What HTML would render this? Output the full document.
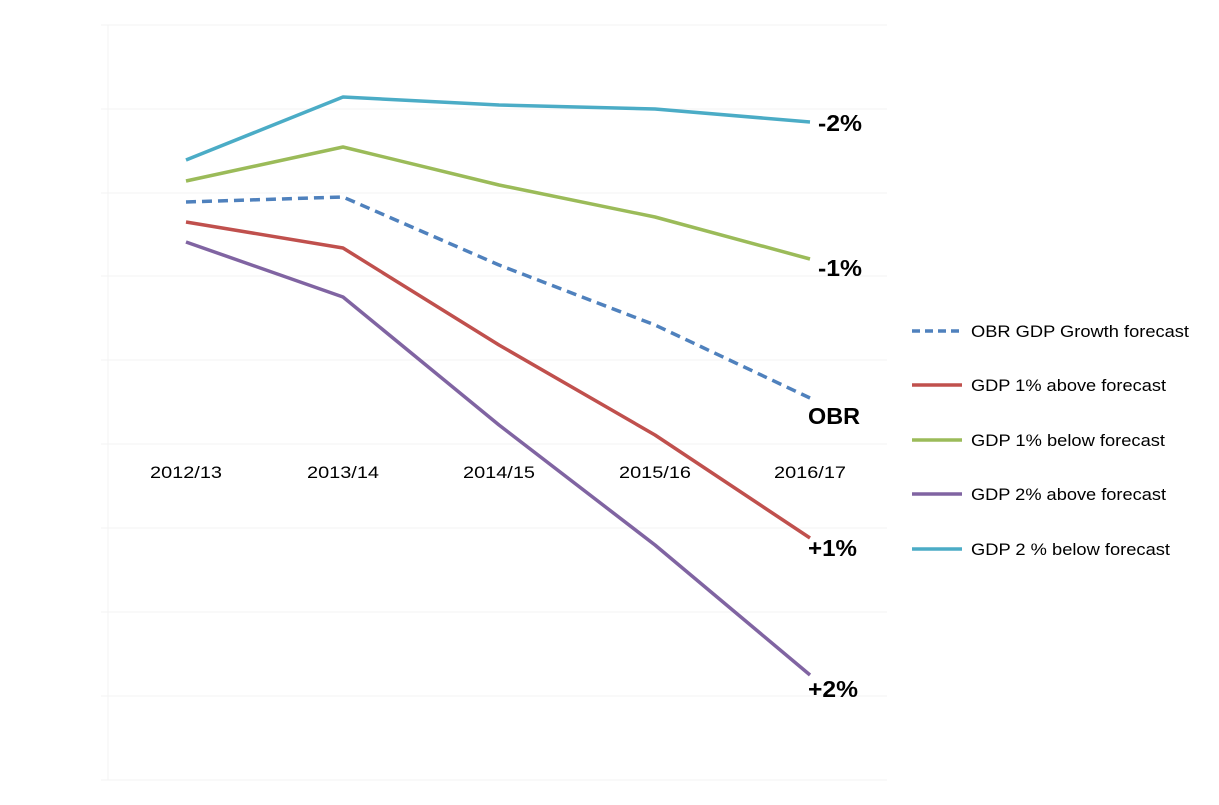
<!DOCTYPE html>
<html><head><style>body{margin:0;background:#fff}svg{display:block}</style></head><body>
<svg width="1219" height="805" xmlns="http://www.w3.org/2000/svg" font-family="Liberation Sans, sans-serif">
<g stroke="#f3f3f3" stroke-width="1">
<line x1="101" y1="25" x2="887" y2="25"/><line x1="101" y1="109" x2="887" y2="109"/>
<line x1="101" y1="193" x2="887" y2="193"/><line x1="101" y1="276" x2="887" y2="276"/>
<line x1="101" y1="360" x2="887" y2="360"/><line x1="101" y1="444" x2="887" y2="444"/>
<line x1="101" y1="528" x2="887" y2="528"/><line x1="101" y1="612" x2="887" y2="612"/>
<line x1="101" y1="696" x2="887" y2="696"/><line x1="101" y1="780" x2="887" y2="780"/>
<line x1="108" y1="25" x2="108" y2="780"/>
</g>
<g font-size="17" fill="#000" text-anchor="middle">
<text x="186" y="478" textLength="72" lengthAdjust="spacingAndGlyphs">2012/13</text>
<text x="343" y="478" textLength="72" lengthAdjust="spacingAndGlyphs">2013/14</text>
<text x="499" y="478" textLength="72" lengthAdjust="spacingAndGlyphs">2014/15</text>
<text x="655" y="478" textLength="72" lengthAdjust="spacingAndGlyphs">2015/16</text>
<text x="810" y="478" textLength="72" lengthAdjust="spacingAndGlyphs">2016/17</text>
</g>
<g fill="none" stroke-width="3.5" stroke-linejoin="round">
<polyline stroke="#4bacc6" points="186,160 343,97 499,105 655,109 810,122"/>
<polyline stroke="#9bbb59" points="186,181 343,147 499,185 655,217 810,259"/>
<polyline stroke="#4f81bd" stroke-dasharray="10,6" points="186,202 343,197 499,265 655,325 810,398"/>
<polyline stroke="#c0504d" points="186,222 343,248 499,345 655,435 810,538"/>
<polyline stroke="#8064a2" points="186,242 343,297 499,425 655,545 810,675"/>
</g>
<g font-size="23" font-weight="bold" fill="#000">
<text x="818" y="131" textLength="44" lengthAdjust="spacingAndGlyphs">-2%</text>
<text x="818" y="276" textLength="44" lengthAdjust="spacingAndGlyphs">-1%</text>
<text x="808" y="424" textLength="52" lengthAdjust="spacingAndGlyphs">OBR</text>
<text x="808" y="556" textLength="49" lengthAdjust="spacingAndGlyphs">+1%</text>
<text x="808" y="697" textLength="50" lengthAdjust="spacingAndGlyphs">+2%</text>
</g>
<g stroke-width="3.5">
<line x1="912" y1="331" x2="962" y2="331" stroke="#4f81bd" stroke-dasharray="8,5"/>
<line x1="912" y1="385" x2="962" y2="385" stroke="#c0504d"/>
<line x1="912" y1="440" x2="962" y2="440" stroke="#9bbb59"/>
<line x1="912" y1="494" x2="962" y2="494" stroke="#8064a2"/>
<line x1="912" y1="549" x2="962" y2="549" stroke="#4bacc6"/>
</g>
<g font-size="17" fill="#000">
<text x="971" y="337" textLength="218" lengthAdjust="spacingAndGlyphs">OBR GDP Growth forecast</text>
<text x="971" y="391" textLength="195" lengthAdjust="spacingAndGlyphs">GDP 1% above forecast</text>
<text x="971" y="446" textLength="194" lengthAdjust="spacingAndGlyphs">GDP 1% below forecast</text>
<text x="971" y="500" textLength="195" lengthAdjust="spacingAndGlyphs">GDP 2% above forecast</text>
<text x="971" y="555" textLength="199" lengthAdjust="spacingAndGlyphs">GDP 2 % below forecast</text>
</g>
</svg>
</body></html>
